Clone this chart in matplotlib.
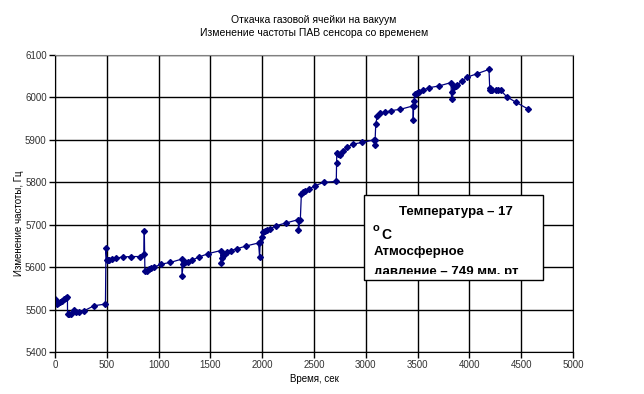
import numpy as np
import matplotlib
matplotlib.use('Agg')
import matplotlib.pyplot as plt
from matplotlib.patches import Rectangle

plt.rcParams['font.family'] = ['Liberation Sans', 'DejaVu Sans']

# время, сек
t = [0, 16, 29, 48, 67, 86, 105, 120, 121, 134, 150, 181, 207, 229, 280, 376, 487,
     492, 500, 513, 525, 551, 589, 653, 732, 820, 857, 862, 868, 885, 904, 926, 958,
     1022, 1112, 1224, 1226, 1237, 1256, 1282, 1327, 1391, 1481, 1599, 1605, 1609,
     1622, 1641, 1660, 1696, 1753, 1846, 1965, 1975, 1980, 1994, 2003, 2026, 2042,
     2080, 2138, 2228, 2349, 2350, 2368, 2378, 2394, 2413, 2452, 2510, 2596, 2715,
     2718, 2720, 2734, 2747, 2779, 2817, 2875, 2968, 3080, 3086, 3090, 3096, 3111,
     3140, 3185, 3245, 3334, 3455, 3458, 3462, 3464, 3478, 3490, 3516, 3548, 3611,
     3707, 3822, 3828, 3830, 3850, 3873, 3885, 3924, 3981, 4075, 4189, 4196, 4198,
     4208, 4221, 4253, 4279, 4301, 4359, 4446, 4564]
# частота, Гц
f = [5525, 5514, 5516, 5519, 5521, 5525, 5527, 5530, 5490, 5490, 5490, 5498, 5495,
     5495, 5497, 5509, 5513, 5644, 5618, 5617, 5618, 5620, 5621, 5624, 5625, 5625,
     5630, 5685, 5590, 5592, 5596, 5599, 5600, 5607, 5611, 5619, 5580, 5608, 5611,
     5613, 5617, 5624, 5632, 5639, 5609, 5621, 5629, 5632, 5635, 5639, 5643, 5650,
     5657, 5623, 5659, 5672, 5682, 5685, 5688, 5691, 5698, 5704, 5712, 5688, 5712,
     5772, 5776, 5779, 5784, 5792, 5800, 5802, 5845, 5869, 5866, 5864, 5873, 5882,
     5890, 5894, 5900, 5887, 5900, 5937, 5957, 5963, 5965, 5969, 5972, 5980, 5947,
     5980, 5992, 6008, 6010, 6013, 6017, 6023, 6027, 6035, 5996, 6013, 6024, 6028,
     6029, 6038, 6048, 6056, 6066, 6023, 6017, 6017, 6017, 6017, 6017, 6017, 6002,
     5989, 5973]

xticks = np.arange(0, 5001, 500)
yticks = np.arange(5400, 6101, 100)

fig = plt.figure(figsize=(6.44, 3.94), dpi=100)
ax = fig.add_axes([55/644, 1-352/394, 518/644, 297/394])

ax.plot(t, f, color='#000080', lw=0.9, marker='D', ms=3.0, mec='#000080', mfc='#000080')

ax.set_xlim(0, 5000)
ax.set_ylim(5400, 6100)
ax.set_xticks(xticks)
ax.set_yticks(yticks)
ax.grid(True, color='black', lw=1)
ax.set_axisbelow(True)
ax.tick_params(labelsize=7, length=4, width=1, direction='out', colors='black',
               labelcolor='#333333', pad=2)
for s in ['left', 'bottom', 'right']:
    ax.spines[s].set_color('black')
ax.spines['top'].set_color('#808080')

ax.set_xlabel('Время, сек', fontsize=7, labelpad=3)
ax.set_ylabel('Изменение частоты, Гц', fontsize=7)
ax.yaxis.set_label_coords((24-55)/518, (352-223)/297)

fig.text(314/644, 1-20/394, 'Откачка газовой ячейки на вакуум', ha='center', va='center', fontsize=7.5)
fig.text(314/644, 1-33/394, 'Изменение частоты ПАВ сенсора со временем', ha='center', va='center', fontsize=7.5)

# текстовое поле
box = Rectangle((364/644, 1-280/394), 179/644, 85/394, transform=fig.transFigure,
                facecolor='white', edgecolor='black', lw=1, zorder=5)
fig.patches.append(box)
clip = Rectangle((364/644, 1-274/394), 179/644, 79/394, transform=fig.transFigure,
                 facecolor='none', edgecolor='none')
fig.patches.append(clip)

lines = [(399, 212, 'Температура – 17', 9.5),
         (381, 235, 'C', 10),
         (374, 252, 'Атмосферное', 9.5),
         (374, 272, 'давление – 749 мм. рт', 9.5)]
for x, y, s, fs in lines:
    tx = fig.text(x/644, 1-y/394, s, ha='left', va='center', fontsize=fs, fontweight='bold', zorder=6)
    tx.set_clip_path(clip)
fig.text(373/644, 1-228/394, 'o', ha='left', va='center', fontsize=8, fontweight='bold', zorder=6)

fig.savefig('out.png', dpi=100)
